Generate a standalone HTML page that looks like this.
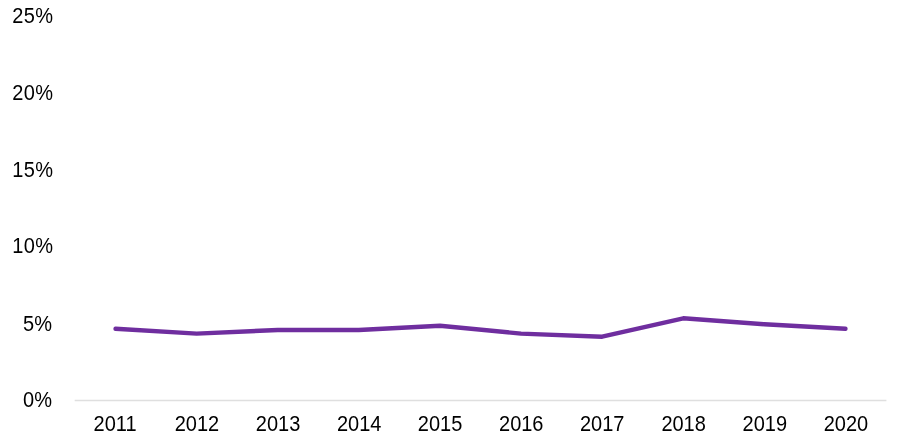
<!DOCTYPE html>
<html><head><meta charset="utf-8"><title>Chart</title>
<style>
html,body{margin:0;padding:0;background:#fff;}
svg{display:block;}
text{font-family:"Liberation Sans",Arial,sans-serif;font-size:20px;fill:#000;}
.yl{letter-spacing:0.35px;}
</style></head><body>
<svg width="900" height="448" viewBox="0 0 900 448">
<rect width="900" height="448" fill="#fff"/>
<line x1="74.7" y1="400.5" x2="886.4" y2="400.5" stroke="#dfdfdf" stroke-width="1.5"/>

<text class="yl" transform="translate(52.5,406.75) scale(1,1.08)" text-anchor="end">0%</text>
<text class="yl" transform="translate(52.5,330.50) scale(1,1.08)" text-anchor="end">5%</text>
<text class="yl" transform="translate(53.4,253.15) scale(1,1.08)" text-anchor="end">10%</text>
<text class="yl" transform="translate(53.4,176.65) scale(1,1.08)" text-anchor="end">15%</text>
<text class="yl" transform="translate(53.4,100.33) scale(1,1.08)" text-anchor="end">20%</text>
<text class="yl" transform="translate(53.4,23.10) scale(1,1.08)" text-anchor="end">25%</text>
<text transform="translate(115.05,430.9) scale(1,1.08)" text-anchor="middle">2011</text>
<text transform="translate(196.90,430.9) scale(1,1.08)" text-anchor="middle">2012</text>
<text transform="translate(278.05,430.9) scale(1,1.08)" text-anchor="middle">2013</text>
<text transform="translate(359.15,430.9) scale(1,1.08)" text-anchor="middle">2014</text>
<text transform="translate(440.05,430.9) scale(1,1.08)" text-anchor="middle">2015</text>
<text transform="translate(521.25,430.9) scale(1,1.08)" text-anchor="middle">2016</text>
<text transform="translate(602.20,430.9) scale(1,1.08)" text-anchor="middle">2017</text>
<text transform="translate(683.60,430.9) scale(1,1.08)" text-anchor="middle">2018</text>
<text transform="translate(764.80,430.9) scale(1,1.08)" text-anchor="middle">2019</text>
<text transform="translate(845.90,430.9) scale(1,1.08)" text-anchor="middle">2020</text>
<polyline points="115.55,328.80 196.65,333.60 277.75,330.00 358.85,330.00 439.95,325.80 521.05,333.60 602.15,336.70 683.25,318.30 764.35,324.30 845.45,328.80" fill="none" stroke="#6f2e9f" stroke-width="4.4" stroke-linecap="round" stroke-linejoin="round"/>
</svg></body></html>
